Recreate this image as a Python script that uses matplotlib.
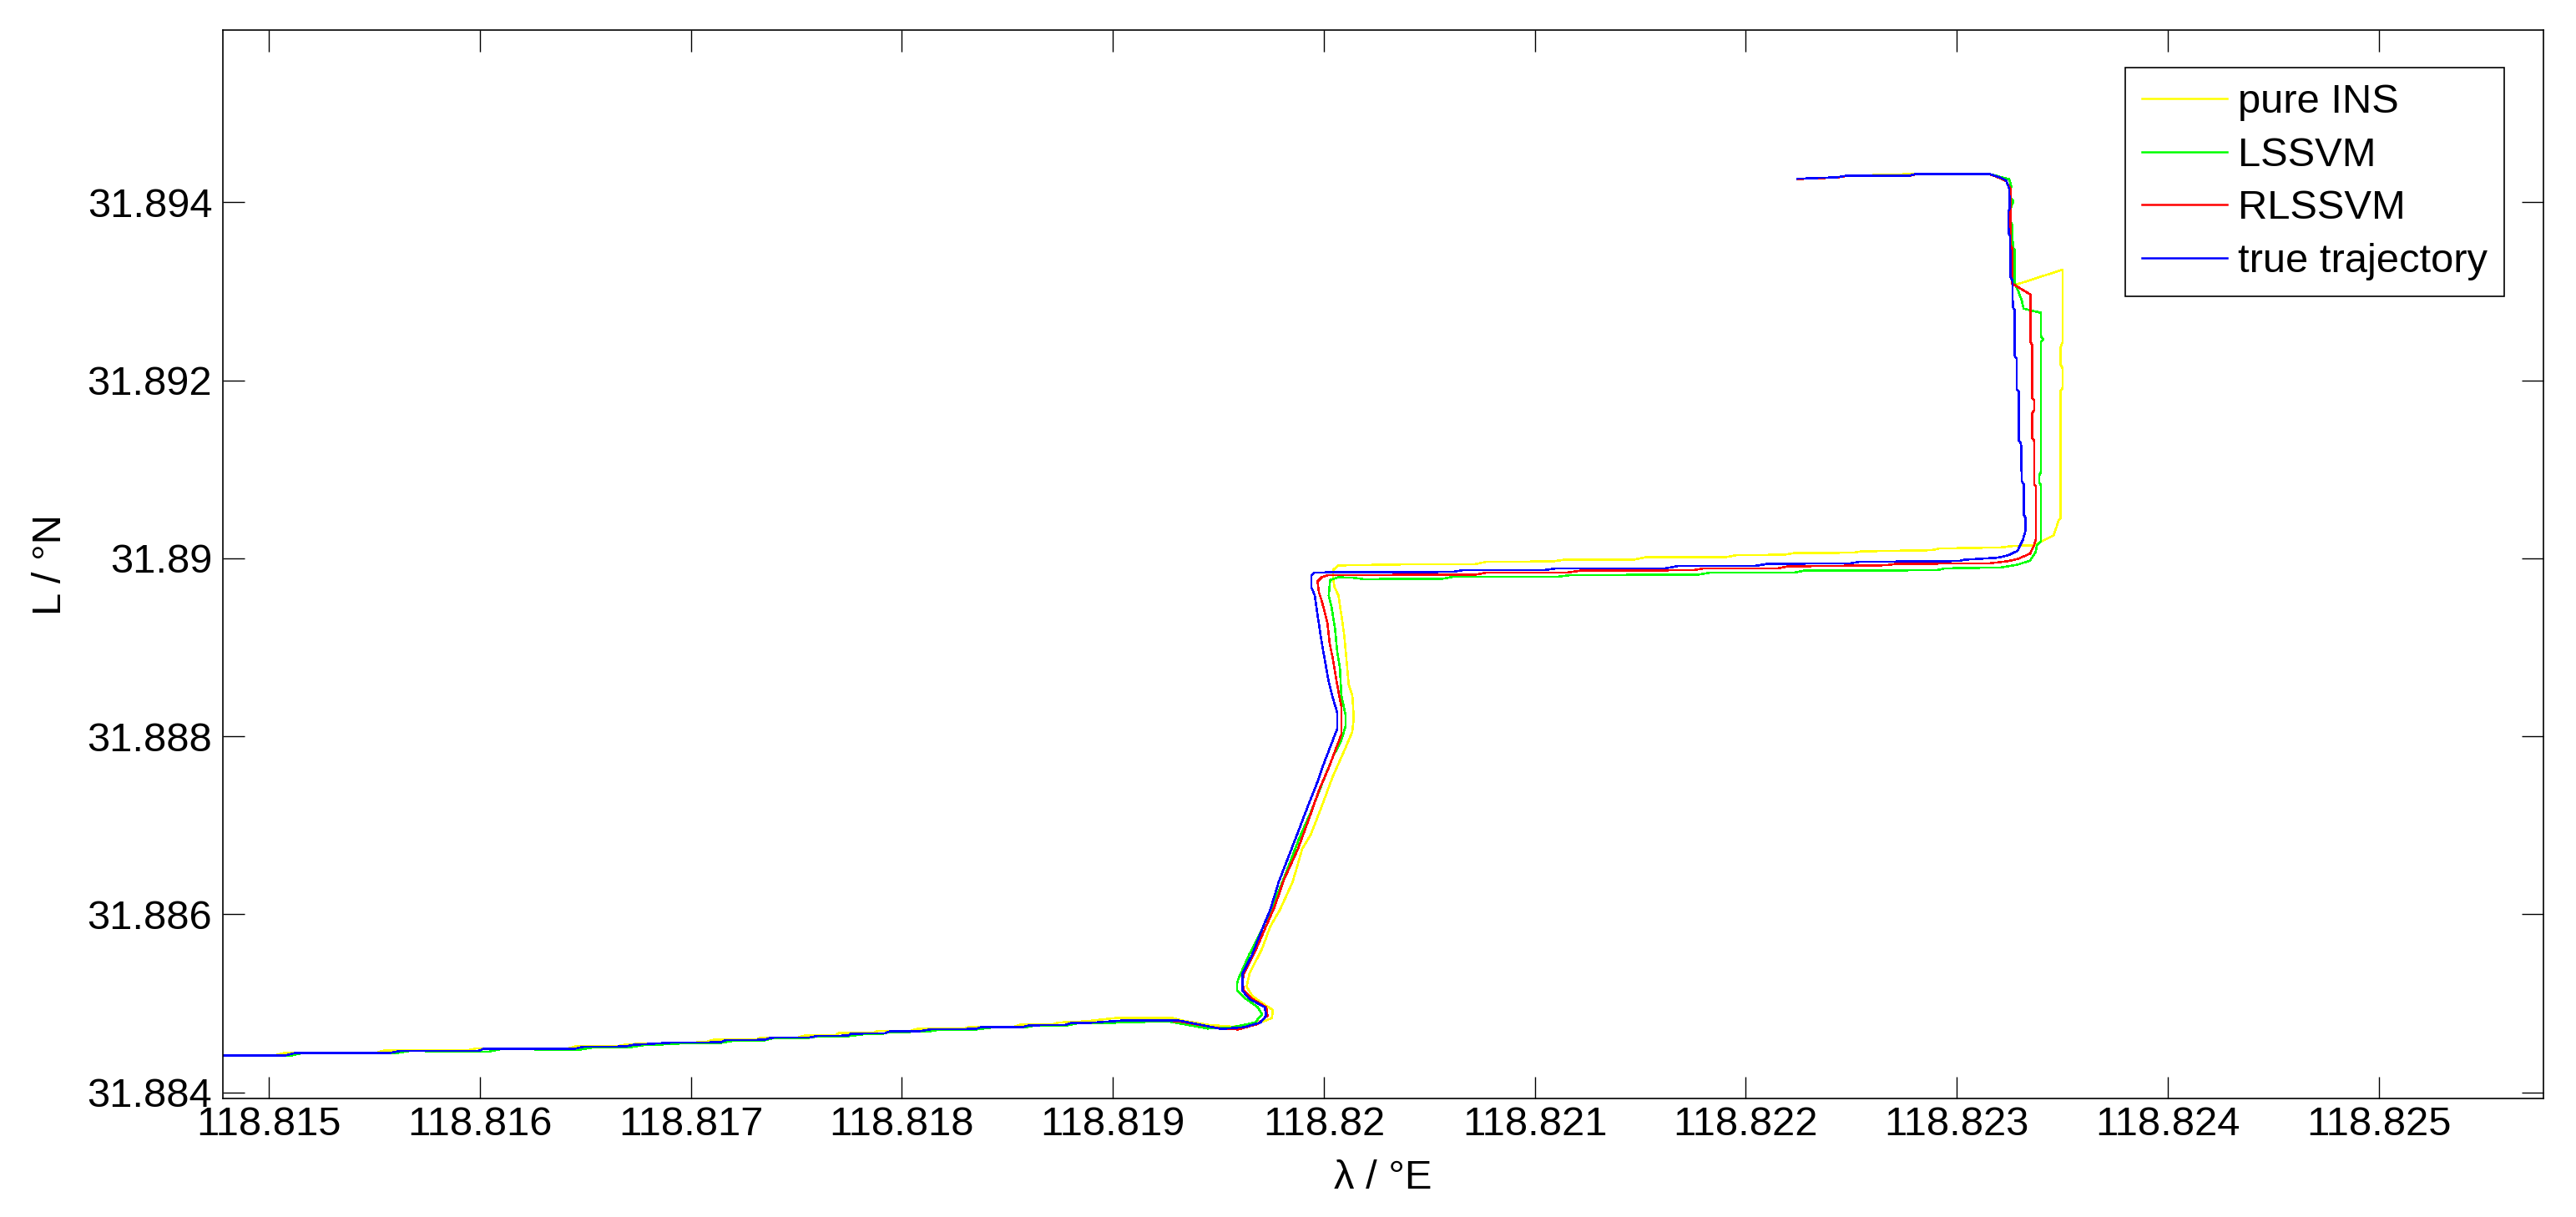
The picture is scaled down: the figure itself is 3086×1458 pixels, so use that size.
import numpy as np
import matplotlib
matplotlib.use('Agg')
import matplotlib.pyplot as plt

plt.rcParams['font.family'] = ['Liberation Sans', 'DejaVu Sans']

# ---------------------------------------------------------------------------
# trajectories, (longitude °E, latitude °N)
# ---------------------------------------------------------------------------
pure_ins = [
    (118.814780, 31.884417), (118.815030, 31.884417), (118.815070, 31.884441),
    (118.815505, 31.884441), (118.815545, 31.884471), (118.815941, 31.884471),
    (118.815980, 31.884494), (118.816416, 31.884494), (118.816455, 31.884518),
    (118.816653, 31.884518), (118.816693, 31.884541), (118.817068, 31.884565),
    (118.817108, 31.884593), (118.817306, 31.884593), (118.817334, 31.884616),
    (118.817504, 31.884616), (118.817543, 31.884640), (118.817682, 31.884640),
    (118.817702, 31.884668), (118.817860, 31.884668), (118.817888, 31.884691),
    (118.818038, 31.884691), (118.818078, 31.884717), (118.818295, 31.884717),
    (118.818323, 31.884740), (118.818533, 31.884740), (118.818560, 31.884762),
    (118.818711, 31.884762), (118.818742, 31.884785), (118.818869, 31.884799),
    (118.819027, 31.884839), (118.819277, 31.884839), (118.819331, 31.884807),
    (118.819450, 31.884760), (118.819568, 31.884738), (118.819674, 31.884769),
    (118.819753, 31.884832), (118.819759, 31.884926), (118.819727, 31.884973),
    (118.819661, 31.885083), (118.819634, 31.885189), (118.819647, 31.885332),
    (118.819707, 31.885614), (118.819746, 31.885864), (118.819792, 31.886052),
    (118.819852, 31.886364), (118.819898, 31.886739), (118.819938, 31.886896),
    (118.819984, 31.887177), (118.820043, 31.887553), (118.820096, 31.887834),
    (118.820135, 31.888053), (118.820142, 31.888209), (118.820135, 31.888460),
    (118.820118, 31.888584), (118.820106, 31.888897), (118.820096, 31.889147),
    (118.820083, 31.889366), (118.820069, 31.889585), (118.820050, 31.889679),
    (118.820043, 31.889804), (118.820044, 31.889870), (118.820068, 31.889921),
    (118.820452, 31.889935), (118.820716, 31.889935), (118.820769, 31.889961),
    (118.821085, 31.889966), (118.821138, 31.889985), (118.821468, 31.889985),
    (118.821527, 31.890013), (118.821903, 31.890013), (118.821956, 31.890036),
    (118.822180, 31.890041), (118.822233, 31.890060), (118.822510, 31.890064),
    (118.822549, 31.890079), (118.822879, 31.890092), (118.822918, 31.890111),
    (118.823209, 31.890123), (118.823262, 31.890138), (118.823367, 31.890148),
    (118.823393, 31.890179), (118.823459, 31.890257), (118.823473, 31.890351),
    (118.823483, 31.890430), (118.823492, 31.890445), (118.823492, 31.891884),
    (118.823502, 31.891915), (118.823502, 31.892133), (118.823492, 31.892180),
    (118.823492, 31.892368), (118.823502, 31.892431), (118.823502, 31.893244),
    (118.823275, 31.893071), (118.823264, 31.893118), (118.823255, 31.893165),
    (118.823253, 31.893619), (118.823246, 31.893650), (118.823245, 31.893901),
    (118.823251, 31.893932), (118.823249, 31.894150), (118.823235, 31.894244),
    (118.823209, 31.894276), (118.823156, 31.894319), (118.822800, 31.894323),
    (118.822721, 31.894313), (118.822477, 31.894300), (118.822431, 31.894282),
    (118.822245, 31.894265),
]

lssvm = [
    (118.814780, 31.884417), (118.815110, 31.884417), (118.815157, 31.884441),
    (118.815604, 31.884441), (118.815664, 31.884466), (118.816040, 31.884457),
    (118.816099, 31.884485), (118.816475, 31.884480), (118.816534, 31.884504),
    (118.816712, 31.884508), (118.816780, 31.884532), (118.816890, 31.884541),
    (118.816962, 31.884551), (118.817128, 31.884551), (118.817199, 31.884579),
    (118.817345, 31.884583), (118.817385, 31.884607), (118.817543, 31.884607),
    (118.817603, 31.884630), (118.817741, 31.884630), (118.817820, 31.884654),
    (118.817900, 31.884654), (118.817939, 31.884677), (118.818117, 31.884682),
    (118.818180, 31.884705), (118.818347, 31.884705), (118.818426, 31.884729),
    (118.818584, 31.884729), (118.818624, 31.884750), (118.818782, 31.884752),
    (118.818833, 31.884776), (118.819067, 31.884785), (118.819252, 31.884801),
    (118.819331, 31.884769), (118.819450, 31.884717), (118.819568, 31.884732),
    (118.819674, 31.884785), (118.819707, 31.884879), (118.819687, 31.884957),
    (118.819621, 31.885067), (118.819588, 31.885144), (118.819588, 31.885223),
    (118.819594, 31.885270), (118.819647, 31.885552), (118.819707, 31.885833),
    (118.819766, 31.886145), (118.819819, 31.886458), (118.819885, 31.886865),
    (118.819938, 31.887146), (118.819990, 31.887459), (118.820043, 31.887771),
    (118.820083, 31.887959), (118.820103, 31.888115), (118.820103, 31.888240),
    (118.820083, 31.888460), (118.820076, 31.888772), (118.820063, 31.888960),
    (118.820053, 31.889210), (118.820036, 31.889460), (118.820023, 31.889585),
    (118.820030, 31.889757), (118.820069, 31.889788), (118.820142, 31.889782),
    (118.820187, 31.889767), (118.820558, 31.889769), (118.820610, 31.889792),
    (118.821112, 31.889795), (118.821171, 31.889813), (118.821771, 31.889816),
    (118.821830, 31.889839), (118.822233, 31.889842), (118.822279, 31.889863),
    (118.822905, 31.889867), (118.822945, 31.889888), (118.823209, 31.889898),
    (118.823288, 31.889929), (118.823348, 31.889976), (118.823374, 31.890069),
    (118.823380, 31.890148), (118.823400, 31.890195), (118.823400, 31.890820),
    (118.823391, 31.890852), (118.823391, 31.890930), (118.823400, 31.890977),
    (118.823400, 31.892431), (118.823409, 31.892462), (118.823400, 31.892493),
    (118.823400, 31.892759), (118.823317, 31.892806), (118.823308, 31.892900),
    (118.823288, 31.893024), (118.823275, 31.893087), (118.823275, 31.893463),
    (118.823268, 31.893493), (118.823262, 31.893650), (118.823264, 31.893744),
    (118.823255, 31.893791), (118.823255, 31.893932), (118.823266, 31.893997),
    (118.823266, 31.894025), (118.823255, 31.894056), (118.823258, 31.894182),
    (118.823249, 31.894260), (118.823209, 31.894285), (118.823156, 31.894319),
    (118.822807, 31.894319), (118.822774, 31.894300), (118.822477, 31.894300),
    (118.822431, 31.894282), (118.822245, 31.894265),
]

rlssvm = [
    (118.814780, 31.884417), (118.815081, 31.884417), (118.815120, 31.884441),
    (118.815569, 31.884441), (118.815621, 31.884466), (118.815991, 31.884466),
    (118.816017, 31.884488), (118.816452, 31.884492), (118.816492, 31.884513),
    (118.816690, 31.884516), (118.816729, 31.884535), (118.816914, 31.884560),
    (118.817139, 31.884563), (118.817165, 31.884588), (118.817349, 31.884591),
    (118.817376, 31.884614), (118.817560, 31.884616), (118.817600, 31.884635),
    (118.817745, 31.884638), (118.817758, 31.884660), (118.817917, 31.884663),
    (118.817943, 31.884685), (118.818088, 31.884689), (118.818141, 31.884710),
    (118.818352, 31.884713), (118.818372, 31.884732), (118.818576, 31.884735),
    (118.818603, 31.884754), (118.818774, 31.884757), (118.818801, 31.884779),
    (118.818893, 31.884782), (118.819067, 31.884811), (118.819304, 31.884801),
    (118.819515, 31.884717), (118.819593, 31.884707), (118.819687, 31.884769),
    (118.819733, 31.884863), (118.819727, 31.884957), (118.819661, 31.885051),
    (118.819621, 31.885144), (118.819614, 31.885238), (118.819621, 31.885332),
    (118.819674, 31.885583), (118.819720, 31.885833), (118.819766, 31.886083),
    (118.819812, 31.886396), (118.819878, 31.886739), (118.819931, 31.887084),
    (118.819977, 31.887396), (118.820023, 31.887646), (118.820063, 31.887897),
    (118.820083, 31.888022), (118.820083, 31.888334), (118.820063, 31.888584),
    (118.820043, 31.888866), (118.820027, 31.889054), (118.820017, 31.889272),
    (118.820004, 31.889398), (118.819990, 31.889523), (118.819977, 31.889616),
    (118.819970, 31.889741), (118.819990, 31.889788), (118.820023, 31.889813),
    (118.820716, 31.889816), (118.820769, 31.889839), (118.821158, 31.889842),
    (118.821217, 31.889863), (118.821751, 31.889867), (118.821797, 31.889886),
    (118.822154, 31.889888), (118.822200, 31.889910), (118.822668, 31.889923),
    (118.822708, 31.889938), (118.823156, 31.889945), (118.823235, 31.889966),
    (118.823288, 31.889992), (118.823348, 31.890054), (118.823367, 31.890148),
    (118.823376, 31.890226), (118.823376, 31.890805), (118.823367, 31.890836),
    (118.823367, 31.891321), (118.823358, 31.891352), (118.823358, 31.891633),
    (118.823367, 31.891664), (118.823367, 31.891774), (118.823357, 31.891805),
    (118.823357, 31.892400), (118.823350, 31.892431), (118.823350, 31.892963),
    (118.823275, 31.893071), (118.823262, 31.893087), (118.823262, 31.893493),
    (118.823255, 31.893528), (118.823255, 31.894150), (118.823235, 31.894236),
    (118.823209, 31.894269), (118.823156, 31.894316), (118.822807, 31.894316),
    (118.822774, 31.894297), (118.822477, 31.894297), (118.822431, 31.894279),
    (118.822245, 31.894262),
]

true_traj = [
    (118.814780, 31.884417), (118.815081, 31.884417), (118.815120, 31.884441),
    (118.815569, 31.884441), (118.815621, 31.884466), (118.815991, 31.884466),
    (118.816017, 31.884488), (118.816452, 31.884492), (118.816492, 31.884513),
    (118.816690, 31.884516), (118.816729, 31.884535), (118.816914, 31.884560),
    (118.817139, 31.884563), (118.817165, 31.884588), (118.817349, 31.884591),
    (118.817376, 31.884614), (118.817560, 31.884616), (118.817600, 31.884635),
    (118.817745, 31.884638), (118.817758, 31.884660), (118.817917, 31.884663),
    (118.817943, 31.884685), (118.818088, 31.884689), (118.818141, 31.884710),
    (118.818352, 31.884713), (118.818372, 31.884732), (118.818576, 31.884735),
    (118.818603, 31.884754), (118.818774, 31.884757), (118.818801, 31.884779),
    (118.818893, 31.884782), (118.819067, 31.884811), (118.819304, 31.884811),
    (118.819397, 31.884769), (118.819515, 31.884713), (118.819621, 31.884732),
    (118.819700, 31.884785), (118.819727, 31.884863), (118.819720, 31.884957),
    (118.819647, 31.885051), (118.819614, 31.885144), (118.819614, 31.885332),
    (118.819661, 31.885552), (118.819707, 31.885833), (118.819746, 31.886052),
    (118.819786, 31.886364), (118.819832, 31.886645), (118.819878, 31.886927),
    (118.819918, 31.887177), (118.819970, 31.887490), (118.819997, 31.887677),
    (118.820043, 31.887959), (118.820063, 31.888084), (118.820063, 31.888272),
    (118.820043, 31.888428), (118.820023, 31.888615), (118.820004, 31.888866),
    (118.819990, 31.889054), (118.819970, 31.889366), (118.819957, 31.889585),
    (118.819940, 31.889679), (118.819940, 31.889804), (118.819957, 31.889842),
    (118.820610, 31.889848), (118.820657, 31.889867), (118.821039, 31.889867),
    (118.821098, 31.889886), (118.821619, 31.889888), (118.821679, 31.889914),
    (118.822048, 31.889917), (118.822101, 31.889938), (118.822497, 31.889945),
    (118.822536, 31.889961), (118.823011, 31.889970), (118.823037, 31.889985),
    (118.823196, 31.890008), (118.823249, 31.890039), (118.823288, 31.890085),
    (118.823314, 31.890210), (118.823325, 31.890304), (118.823325, 31.890461),
    (118.823317, 31.890492), (118.823317, 31.890836), (118.823308, 31.890867),
    (118.823305, 31.891289), (118.823295, 31.891321), (118.823295, 31.891868),
    (118.823285, 31.891899), (118.823284, 31.892243), (118.823275, 31.892274),
    (118.823275, 31.892790), (118.823266, 31.892822), (118.823264, 31.893118),
    (118.823255, 31.893165), (118.823253, 31.893619), (118.823246, 31.893650),
    (118.823245, 31.893901), (118.823251, 31.893932), (118.823249, 31.894150),
    (118.823235, 31.894244), (118.823209, 31.894276), (118.823156, 31.894319),
    (118.822807, 31.894319), (118.822774, 31.894300), (118.822477, 31.894300),
    (118.822431, 31.894282), (118.822260, 31.894267), (118.822245, 31.894265),
]

series_names = ['pure INS', 'LSSVM', 'RLSSVM', 'true trajectory']
series_colors = ['#ffff00', '#00ff00', '#ff0000', '#0000ff']

x_ticks = [118.815, 118.816, 118.817, 118.818, 118.819, 118.820,
           118.821, 118.822, 118.823, 118.824, 118.825]
x_tick_labels = ['118.815', '118.816', '118.817', '118.818', '118.819', '118.82',
                 '118.821', '118.822', '118.823', '118.824', '118.825']
y_ticks = [31.884, 31.886, 31.888, 31.890, 31.892, 31.894]
y_tick_labels = ['31.884', '31.886', '31.888', '31.89', '31.892', '31.894']

# ---------------------------------------------------------------------------
# figure
# ---------------------------------------------------------------------------
FS = 17.6
fig = plt.figure(figsize=(15.43, 7.29), dpi=200)
ax = fig.add_axes([0.08642, 0.09719, 0.90085, 0.87832])

for track, name, col in zip([pure_ins, lssvm, rlssvm, true_traj], series_names, series_colors):
    arr = np.array(track)
    ax.plot(arr[:, 0], arr[:, 1], color=col, lw=0.55, label=name, antialiased=False)

ax.set_xlim(118.81478, 118.82578)
ax.set_ylim(31.883929, 31.895939)

ax.set_xticks(x_ticks)
ax.set_xticklabels(x_tick_labels)
ax.set_yticks(y_ticks)
ax.set_yticklabels(y_tick_labels)
ax.tick_params(direction='in', top=True, right=True, length=9.5, width=0.5,
               labelsize=FS, colors='black')
ax.tick_params(axis='x', pad=3)
ax.tick_params(axis='y', pad=4.5)
for sp in ax.spines.values():
    sp.set_linewidth(0.6)

ax.set_xlabel('λ / °E', fontsize=FS)
ax.set_ylabel('L / °N', fontsize=FS)
ax.xaxis.set_label_coords(0.5, -0.057)
ax.yaxis.set_label_coords(-0.066, 0.5)

leg = ax.legend(loc='upper right', bbox_to_anchor=(0.9832, 0.9649), fontsize=FS,
                frameon=True, fancybox=False, framealpha=1, edgecolor='black',
                borderpad=0.4, labelspacing=0.38, handlelength=2.1,
                handletextpad=0.27, borderaxespad=0)
leg.get_frame().set_linewidth(0.6)
for h in leg.get_lines():
    h.set_linewidth(0.9)

fig.savefig('out.png', dpi=200)
